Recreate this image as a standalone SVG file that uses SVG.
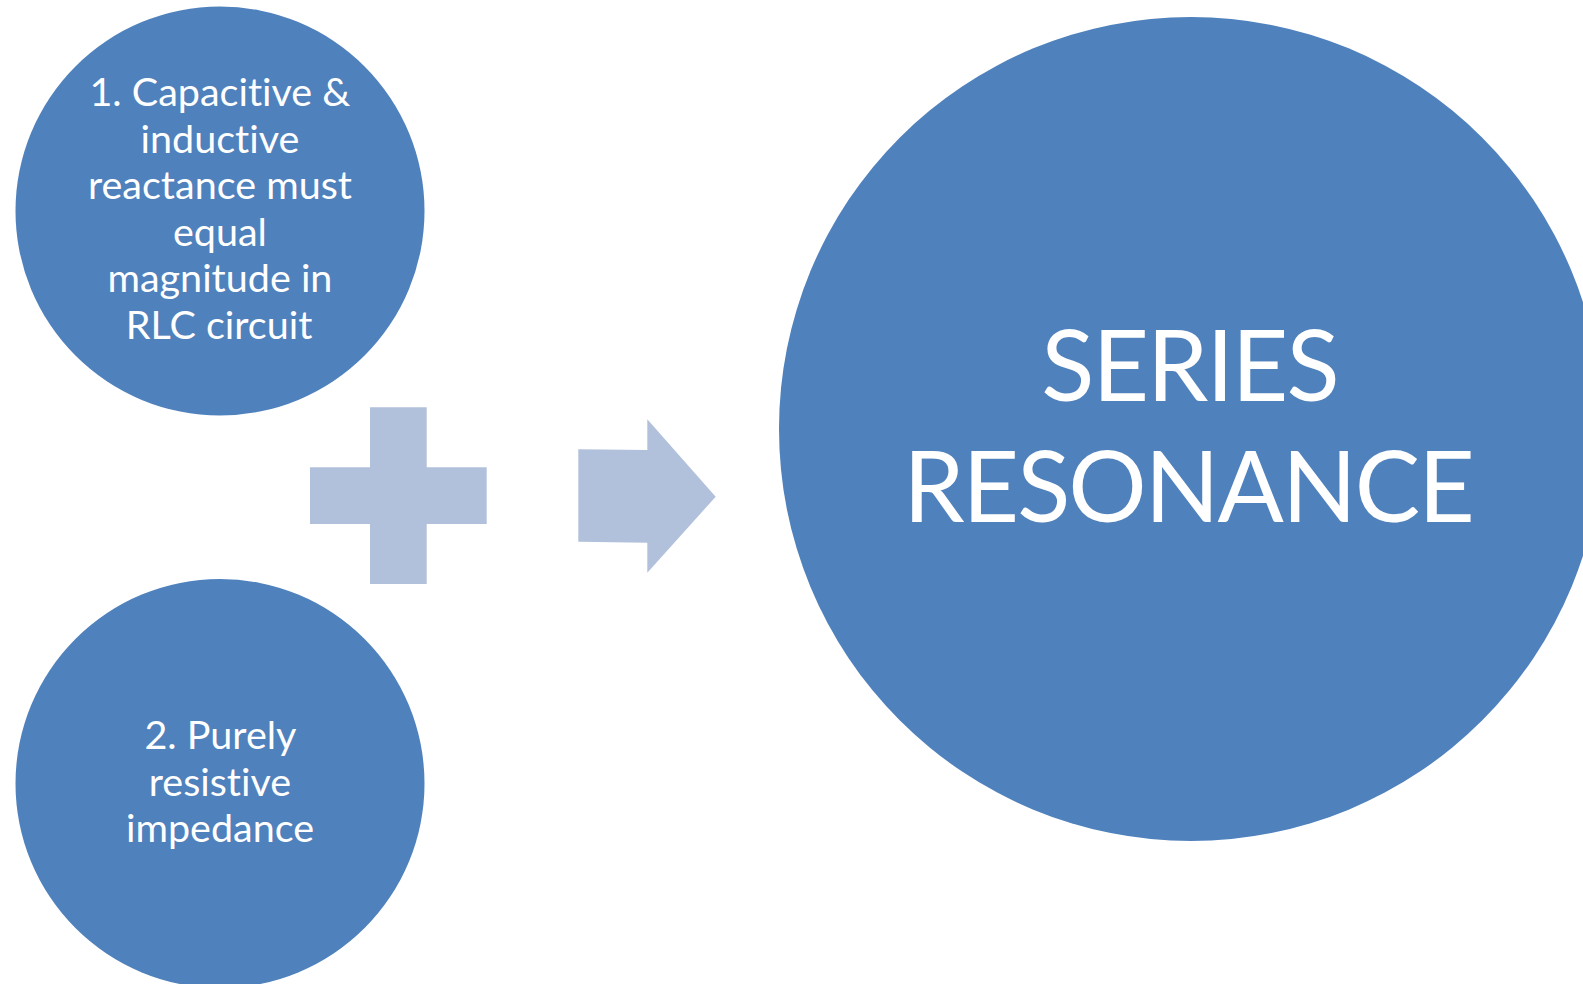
<svg xmlns="http://www.w3.org/2000/svg" width="1583" height="984" viewBox="0 0 1583 984">
<style>
.node{fill:#4F81BD}
.shape{fill:#B2C1DB}
.t{font-family:Lato,"Liberation Sans",sans-serif;fill:#FFFFFF;text-anchor:middle;font-variant-ligatures:none;font-feature-settings:"liga" 0}
.s{font-size:39.5px}
.b{font-size:98px;letter-spacing:-2px}
</style>
<rect width="1583" height="984" fill="#FFFFFF"/>
<g id="node-capacitive">
<circle class="node" cx="220" cy="211" r="204.5"/>
<text class="t s">
<tspan x="225" y="106">1. Capacitive &amp;</tspan>
<tspan x="225" y="152.6">inductive</tspan>
<tspan x="225" y="199.2">reactance must</tspan>
<tspan x="225" y="245.8">equal</tspan>
<tspan x="225" y="292.4">magnitude in</tspan>
<tspan x="219" y="339">RLC circuit</tspan>
</text>
</g>
<g id="node-resistive">
<circle class="node" cx="220" cy="783.5" r="204.5"/>
<text class="t s">
<tspan x="225" y="749">2. Purely</tspan>
<tspan x="225" y="795.6">resistive</tspan>
<tspan x="220" y="842.2">impedance</tspan>
</text>
</g>
<g id="node-series-resonance">
<circle class="node" cx="1191" cy="429" r="412"/>
<text class="t b">
<tspan x="1201" y="401">SERIES</tspan>
<tspan x="1188" y="522">RESONANCE</tspan>
</text>
</g>
<g id="connectors">
<path id="plus" class="shape" d="M370 407.3H426.7V467.3H486.7V524H426.7V584H370V524H310V467.3H370Z"/>
<path id="arrow" class="shape" d="M578.3 449.3L647.3 450V419.3L715.7 496.7L647.3 572.7V542.7L578.3 541.7Z"/>
</g>
</svg>
